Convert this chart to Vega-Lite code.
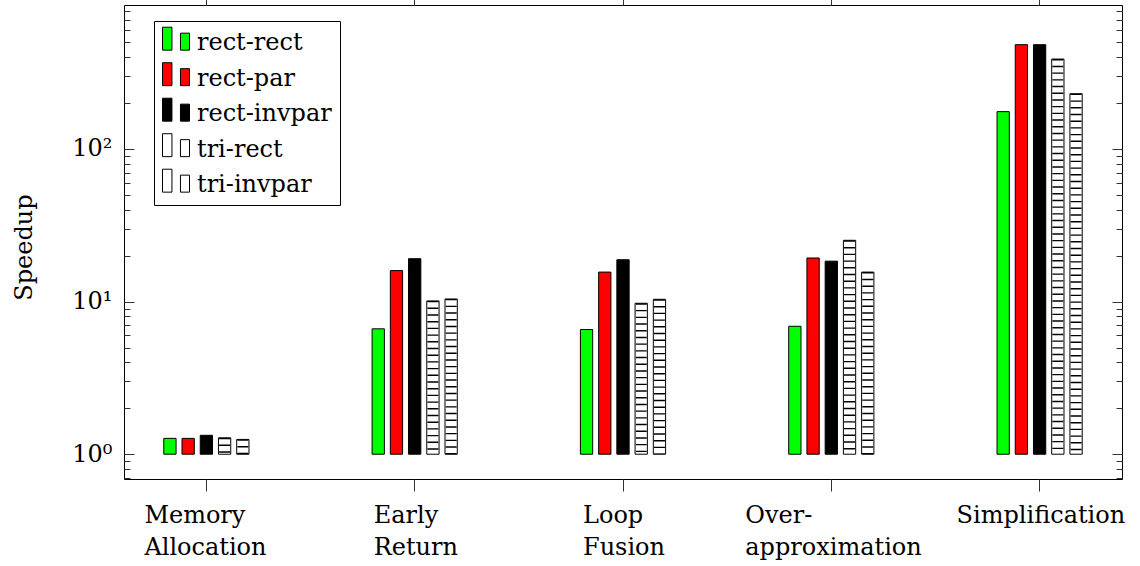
{
  "$schema": "https://vega.github.io/schema/vega-lite/v6.json",
  "width": 998,
  "height": 474,
  "autosize": "none",
  "padding": {"left": 124, "top": 5, "right": 18, "bottom": 87},
  "background": "white",
  "config": {
    "view": {"stroke": "black", "strokeWidth": 1},
    "font": "DejaVu Serif",
    "axis": {"labelFont": "DejaVu Serif", "titleFont": "DejaVu Serif", "labelColor": "black", "titleColor": "black", "tickColor": "#333", "tickWidth": 1, "grid": false, "domain": false},
    "legend": {
      "orient": "none", "legendX": 30, "legendY": 16, "title": null,
      "strokeColor": "black", "fillColor": "white", "padding": 8, "cornerRadius": 0,
      "symbolType": "M-1,-1.17H-0.3V0.53H-1Z M0.33,-0.73H1V0.53H0.33Z",
      "symbolSize": 729, "symbolStrokeWidth": 1, "symbolOpacity": 1,
      "labelFont": "DejaVu Serif", "labelFontSize": 24, "labelColor": "black", "labelOffset": 7, "rowPadding": 5.5, "labelLimit": 300
    }
  },
  "data": {
    "values": [
      {"category": "Memory Allocation", "series": "rect-rect", "value": 1.27},
      {"category": "Memory Allocation", "series": "rect-par", "value": 1.27},
      {"category": "Memory Allocation", "series": "rect-invpar", "value": 1.33},
      {"category": "Memory Allocation", "series": "tri-rect", "value": 1.28},
      {"category": "Memory Allocation", "series": "tri-invpar", "value": 1.25},
      {"category": "Early Return", "series": "rect-rect", "value": 6.63},
      {"category": "Early Return", "series": "rect-par", "value": 15.96},
      {"category": "Early Return", "series": "rect-invpar", "value": 19.1},
      {"category": "Early Return", "series": "tri-rect", "value": 10.1},
      {"category": "Early Return", "series": "tri-invpar", "value": 10.4},
      {"category": "Loop Fusion", "series": "rect-rect", "value": 6.56},
      {"category": "Loop Fusion", "series": "rect-par", "value": 15.6},
      {"category": "Loop Fusion", "series": "rect-invpar", "value": 18.8},
      {"category": "Loop Fusion", "series": "tri-rect", "value": 9.75},
      {"category": "Loop Fusion", "series": "tri-invpar", "value": 10.35},
      {"category": "Over-approximation", "series": "rect-rect", "value": 6.89},
      {"category": "Over-approximation", "series": "rect-par", "value": 19.3},
      {"category": "Over-approximation", "series": "rect-invpar", "value": 18.4},
      {"category": "Over-approximation", "series": "tri-rect", "value": 25.2},
      {"category": "Over-approximation", "series": "tri-invpar", "value": 15.6},
      {"category": "Simplification", "series": "rect-rect", "value": 175.5},
      {"category": "Simplification", "series": "rect-par", "value": 482},
      {"category": "Simplification", "series": "rect-invpar", "value": 482},
      {"category": "Simplification", "series": "tri-rect", "value": 388},
      {"category": "Simplification", "series": "tri-invpar", "value": 230}
    ]
  },
  "layer": [
    {
      "mark": {"type": "bar", "strokeWidth": 1},
      "encoding": {
        "x": {
          "field": "category", "type": "nominal",
          "scale": {"domain": ["Memory Allocation", "Early Return", "Loop Fusion", "Over-approximation", "Simplification"], "paddingInner": 0.591, "paddingOuter": 0.191},
          "axis": {
            "orient": "bottom", "title": null, "tickSize": 12, "labelAngle": 0,
            "labelAlign": "left", "labelBaseline": "top", "labelPadding": 12,
            "labelOffset": {"condition": [
              {"test": "datum.value === 'Memory Allocation'", "value": -62},
              {"test": "datum.value === 'Early Return'", "value": -41},
              {"test": "datum.value === 'Loop Fusion'", "value": -40},
              {"test": "datum.value === 'Over-approximation'", "value": -86}
            ], "value": -83},
            "labelFontSize": 24, "labelLineHeight": 32, "labelLimit": 400, "labelOverlap": false, "labelFlush": false,
            "labelExpr": "datum.value === 'Memory Allocation' ? ['Memory', 'Allocation'] : datum.value === 'Early Return' ? ['Early', 'Return'] : datum.value === 'Loop Fusion' ? ['Loop', 'Fusion'] : datum.value === 'Over-approximation' ? ['Over-', 'approximation'] : 'Simplification'"
          }
        },
        "xOffset": {
          "field": "series", "type": "nominal",
          "scale": {"domain": ["rect-rect", "rect-par", "rect-invpar", "tri-rect", "tri-invpar"], "paddingInner": 0.326, "paddingOuter": 0}
        },
        "y": {
          "field": "value", "type": "quantitative",
          "scale": {"type": "log", "domain": [0.688, 877], "nice": false, "zero": false},
          "axis": {
            "orient": "left", "values": [1, 10, 100], "ticks": false,
            "labelExpr": "datum.value === 1 ? '10⁰' : datum.value === 10 ? '10¹' : '10²'",
            "labelPadding": 12, "labelFontSize": 24, "labelOverlap": false, "labelBaseline": "middle",
            "title": "Speedup", "titleFontSize": 24, "titleFontWeight": "normal", "titleAngle": -90,
            "titleX": -93, "titleY": 242, "titleBaseline": "alphabetic", "titleAlign": "center"
          }
        },
        "y2": {"datum": 1},
        "fill": {
          "field": "series", "type": "nominal",
          "scale": {"domain": ["rect-rect", "rect-par", "rect-invpar", "tri-rect", "tri-invpar"], "range": ["#00ff00", "#ff0000", "#000000", "#ffffff", "#ffffff"]}
        },
        "stroke": {
          "field": "series", "type": "nominal",
          "scale": {"domain": ["rect-rect", "rect-par", "rect-invpar", "tri-rect", "tri-invpar"], "range": ["#000000", "#000000", "#000000", "#000000", "#000000"]}
        }
      }
    },
    {
      "transform": [{"filter": "datum.series === 'tri-rect' || datum.series === 'tri-invpar'"}],
      "mark": {"type": "rule", "strokeWidth": 11, "strokeDash": [1.4, 5.3], "color": "black", "strokeCap": "butt"},
      "encoding": {
        "x": {
          "field": "category", "type": "nominal",
          "scale": {"domain": ["Memory Allocation", "Early Return", "Loop Fusion", "Over-approximation", "Simplification"], "paddingInner": 0.591, "paddingOuter": 0.191},
          "axis": {"orient": "top", "title": null, "labels": false, "tickSize": 6}
        },
        "xOffset": {
          "field": "series", "type": "nominal",
          "scale": {"domain": ["rect-rect", "rect-par", "rect-invpar", "tri-rect", "tri-invpar"], "paddingInner": 0.326, "paddingOuter": 0}
        },
        "y": {
          "field": "value", "type": "quantitative",
          "scale": {"type": "log", "domain": [0.688, 877], "nice": false, "zero": false},
          "axis": {"orient": "right", "title": null, "labels": false, "tickSize": -10, "values": [1, 10, 100]}
        },
        "y2": {"datum": 1}
      }
    },
    {
      "mark": {"type": "bar", "opacity": 0},
      "encoding": {
        "x": {"field": "category", "type": "nominal", "axis": null},
        "xOffset": {"field": "series", "type": "nominal"},
        "y": {
          "field": "value", "type": "quantitative",
          "scale": {"type": "log", "domain": [0.688, 877], "nice": false, "zero": false},
          "axis": {"orient": "left", "title": null, "labels": false, "tickSize": -10, "values": [1, 10, 100]}
        },
        "y2": {"datum": 1}
      }
    },
    {
      "mark": {"type": "bar", "opacity": 0},
      "encoding": {
        "x": {"field": "category", "type": "nominal", "axis": null},
        "xOffset": {"field": "series", "type": "nominal"},
        "y": {
          "field": "value", "type": "quantitative",
          "scale": {"type": "log", "domain": [0.688, 877], "nice": false, "zero": false},
          "axis": {"orient": "left", "title": null, "labels": false, "tickSize": -6, "values": [0.7, 0.8, 0.9, 2, 3, 4, 5, 6, 7, 8, 9, 20, 30, 40, 50, 60, 70, 80, 90, 200, 300, 400, 500, 600, 700, 800]}
        },
        "y2": {"datum": 1}
      }
    },
    {
      "mark": {"type": "bar", "opacity": 0},
      "encoding": {
        "x": {"field": "category", "type": "nominal", "axis": null},
        "xOffset": {"field": "series", "type": "nominal"},
        "y": {
          "field": "value", "type": "quantitative",
          "scale": {"type": "log", "domain": [0.688, 877], "nice": false, "zero": false},
          "axis": {"orient": "right", "title": null, "labels": false, "tickSize": -6, "values": [0.7, 0.8, 0.9, 2, 3, 4, 5, 6, 7, 8, 9, 20, 30, 40, 50, 60, 70, 80, 90, 200, 300, 400, 500, 600, 700, 800]}
        },
        "y2": {"datum": 1}
      }
    }
  ],
  "resolve": {"axis": {"x": "independent", "y": "independent"}}
}
